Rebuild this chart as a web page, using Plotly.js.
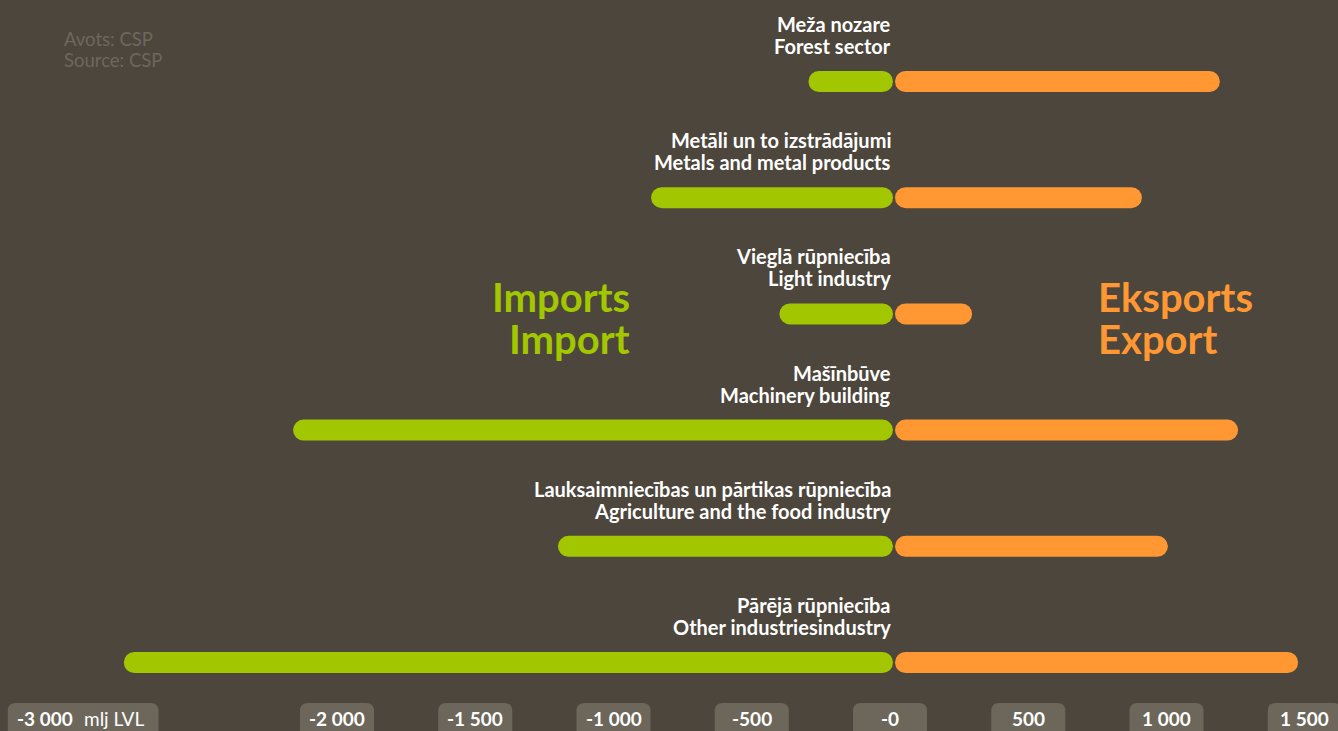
<!DOCTYPE html>
<html>
<head>
<meta charset="utf-8">
<script src="https://cdn.plot.ly/plotly-3.0.1.min.js"></script>
<style>
  html, body { margin: 0; padding: 0; background: #4c463c; }
  #chart { width: 1338px; height: 731px; }
  .scatterlayer .js-line { stroke-linecap: round !important; }
</style>
</head>
<body>
<div id="chart"></div>
<script>
// ---- data ----
const categoriesLv = [
  "Meža nozare",
  "Metāli un to izstrādājumi",
  "Vieglā rūpniecība",
  "Mašīnbūve",
  "Lauksaimniecības un pārtikas rūpniecība",
  "Pārējā rūpniecība"
];
const categoriesEn = [
  "Forest sector",
  "Metals and metal products",
  "Light industry",
  "Machinery building",
  "Agriculture and the food industry",
  "Other industriesindustry"
];
const imports = [-295, -864, -400, -2159, -1201, -2771];
const exports = [1193, 911, 297, 1259, 1005, 1476];
const tickVals = [-2000, -1500, -1000, -500, 0, 500, 1000, 1500];
const tickText = ["-2 000", "-1 500", "-1 000", "-500", "-0", "500", "1 000", "1 500"];
const firstTickVal = -3000;
const firstTickText = "-3 000";
const unitText = "mlj LVL";

// ---- geometry ----
const W = 1338, H = 731;
const PXPU = 0.2765;      // pixels per unit
const X0PX = 890;         // pixel of zero
const ROW0 = 81.5, ROWH = 116.2;
const xRange = [-X0PX / PXPU, (W - X0PX) / PXPU];
const yRange = [(H - ROW0) / ROWH, -ROW0 / ROWH];
const cap = 10.5 / PXPU;

const GREEN = "#a2c600", ORANGE = "#ff9833", BG = "#4c463c", BOX = "#6d675b";
const FONT = "Lato";

const gx = [], gy = [], ox = [], oy = [];
imports.forEach((v, i) => {
  gx.push(v + cap, 3 / PXPU - cap, null); gy.push(i, i, null);
});
exports.forEach((v, i) => {
  ox.push(5 / PXPU + cap, v - cap, null); oy.push(i, i, null);
});

const traces = [
  { type: "scatter", mode: "lines", x: gx, y: gy, line: { color: GREEN, width: 21 }, hoverinfo: "skip", connectgaps: false },
  { type: "scatter", mode: "lines", x: ox, y: oy, line: { color: ORANGE, width: 21 }, hoverinfo: "skip", connectgaps: false }
];

function roundedTop(x0, x1, top, bottom, r) {
  return `M${x0},${bottom} L${x0},${top - r} Q${x0},${top} ${x0 + r},${top} L${x1 - r},${top} Q${x1},${top} ${x1},${top - r} L${x1},${bottom} Z`;
}

const shapes = [];
const annotations = [];

// tick boxes and labels
tickVals.forEach((v, k) => {
  shapes.push({
    type: "path", xref: "x", yref: "paper", xsizemode: "pixel", ysizemode: "pixel",
    xanchor: v, yanchor: 0, path: roundedTop(-37, 37, 28, -10, 8),
    fillcolor: BOX, line: { width: 0 }, layer: "above"
  });
  annotations.push({
    x: v, xref: "x", y: 0, yref: "paper", yanchor: "middle", yshift: 13, showarrow: false,
    text: tickText[k], font: { family: FONT, size: 19, color: "#ffffff", weight: 700 }
  });
});
shapes.push({
  type: "path", xref: "x", yref: "paper", xsizemode: "pixel", ysizemode: "pixel",
  xanchor: firstTickVal, yanchor: 0, path: roundedTop(-52.7, 98, 28, -10, 8),
  fillcolor: BOX, line: { width: 0 }, layer: "above"
});
annotations.push({
  x: firstTickVal, xref: "x", y: 0, yref: "paper", yanchor: "middle", xanchor: "left", xshift: -46, yshift: 13,
  showarrow: false, text: firstTickText, font: { family: FONT, size: 19, color: "#ffffff", weight: 700 }
});
annotations.push({
  x: firstTickVal, xref: "x", y: 0, yref: "paper", yanchor: "middle", xanchor: "left", xshift: 21, yshift: 13,
  showarrow: false, text: unitText, font: { family: FONT, size: 19, color: "#ffffff" }
});

// category labels
categoriesLv.forEach((c, i) => {
  annotations.push({
    x: 0, xref: "x", y: i, yref: "y", xanchor: "right", yanchor: "middle", xshift: 3, yshift: 57.5,
    showarrow: false, text: c, font: { family: FONT, size: 20, color: "#ffffff", weight: 700 }
  });
  annotations.push({
    x: 0, xref: "x", y: i, yref: "y", xanchor: "right", yanchor: "middle", xshift: 3, yshift: 35.5,
    showarrow: false, text: categoriesEn[i], font: { family: FONT, size: 20, color: "#ffffff", weight: 700 }
  });
});

// big side titles
const big = { family: FONT, size: 40, weight: 700 };
annotations.push({ xref: "paper", yref: "paper", x: 632 / W, y: 1 - 297 / H, xanchor: "right", yanchor: "middle", showarrow: false,
  text: "Imports", font: Object.assign({}, big, { color: GREEN }) });
annotations.push({ xref: "paper", yref: "paper", x: 632 / W, y: 1 - 339 / H, xanchor: "right", yanchor: "middle", showarrow: false,
  text: "Import", font: Object.assign({}, big, { color: GREEN }) });
annotations.push({ xref: "paper", yref: "paper", x: 1096 / W, y: 1 - 297 / H, xanchor: "left", yanchor: "middle", showarrow: false,
  text: "Eksports", font: Object.assign({}, big, { color: ORANGE }) });
annotations.push({ xref: "paper", yref: "paper", x: 1096 / W, y: 1 - 339 / H, xanchor: "left", yanchor: "middle", showarrow: false,
  text: "Export", font: Object.assign({}, big, { color: ORANGE }) });

// source
annotations.push({ xref: "paper", yref: "paper", x: 62 / W, y: 1 - 39 / H, xanchor: "left", yanchor: "middle", showarrow: false,
  text: "Avots: CSP", font: { family: FONT, size: 18.5, color: "#6e685c" } });
annotations.push({ xref: "paper", yref: "paper", x: 62 / W, y: 1 - 60 / H, xanchor: "left", yanchor: "middle", showarrow: false,
  text: "Source: CSP", font: { family: FONT, size: 18.5, color: "#6e685c" } });

const layout = {
  width: W, height: H,
  margin: { l: 0, r: 0, t: 0, b: 0, pad: 0 },
  paper_bgcolor: BG, plot_bgcolor: BG,
  showlegend: false, hovermode: false,
  xaxis: { range: xRange, visible: false, fixedrange: true },
  yaxis: { range: yRange, visible: false, fixedrange: true },
  shapes: shapes,
  annotations: annotations
};

Plotly.newPlot("chart", traces, layout, { displayModeBar: false, staticPlot: true });
</script>
</body>
</html>
